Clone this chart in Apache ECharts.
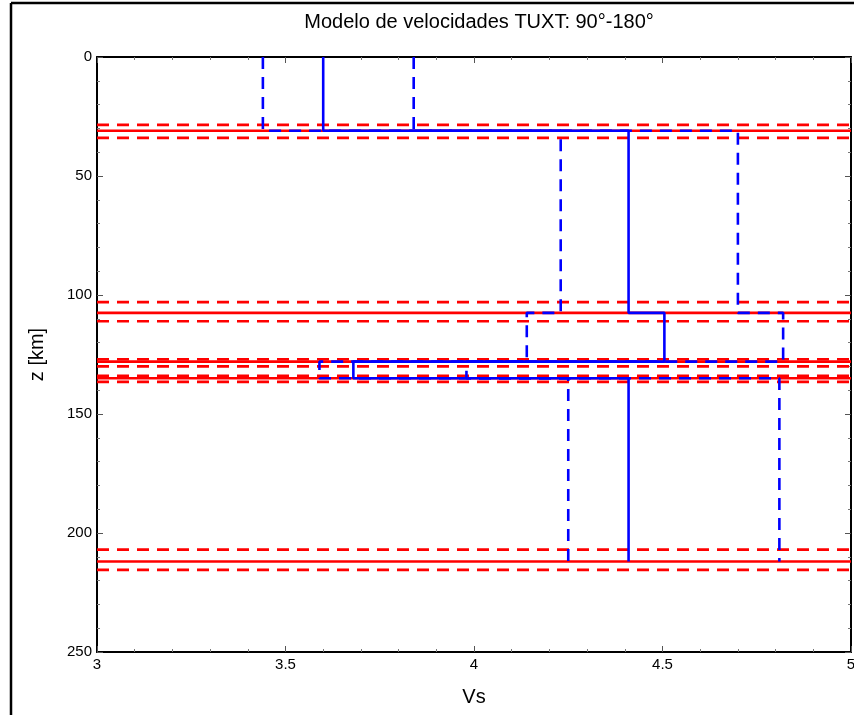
<!DOCTYPE html>
<html>
<head>
<meta charset="utf-8">
<script src="https://cdn.jsdelivr.net/npm/echarts@6/dist/echarts.min.js"></script>
<style>
  html, body { margin: 0; padding: 0; background: #fff; }
  #chart { width: 854px; height: 715px; }
</style>
</head>
<body>
<div id="chart"></div>
<script>
// Layered shear-velocity model: depth interfaces (km) and Vs per layer (km/s)
const layerTops    = [0, 31, 107.5, 128, 135];
const layerBottoms = [31, 107.5, 128, 135, 212];
const vsMean  = [3.60, 4.41, 4.505, 3.68, 4.41];
const vsLow   = [3.44, 4.23, 4.14, 3.59, 4.25];
const vsHigh  = [3.84, 4.70, 4.82, 3.98, 4.81];

// Interface depths with their uncertainty bounds (km)
const interfaceDepth = [31, 107.5, 128, 135, 212];
const interfaceShallow = [28.5, 103, 127, 134, 207];
const interfaceDeep = [34, 111, 130, 136.5, 215.5];

const xTicks = [3, 3.5, 4, 4.5, 5];
const zTicks = [0, 50, 100, 150, 200, 250];

// Build a step profile: vertical segment per layer, joined horizontally at interfaces
function stepProfile(vs) {
  const pts = [];
  for (let i = 0; i < vs.length; i++) {
    pts.push([vs[i], layerTops[i]]);
    pts.push([vs[i], layerBottoms[i]]);
  }
  return pts;
}

const X0 = xTicks[0], X1 = xTicks[xTicks.length - 1];
const series = [];

function hLine(z, type) {
  series.push({
    type: 'line', data: [[X0, z], [X1, z]], symbol: 'none', silent: true,
    lineStyle: { color: '#ff0000', width: 2.6, type: type === 'dashed' ? [12, 8] : 'solid' },
    z: 2
  });
}
interfaceDepth.forEach(z => hLine(z, 'solid'));
interfaceShallow.forEach(z => hLine(z, 'dashed'));
interfaceDeep.forEach(z => hLine(z, 'dashed'));

series.push({
  type: 'line', data: stepProfile(vsLow), symbol: 'none', silent: true,
  lineStyle: { color: '#0000ff', width: 2.6, type: [12, 8] }, z: 3
});
series.push({
  type: 'line', data: stepProfile(vsHigh), symbol: 'none', silent: true,
  lineStyle: { color: '#0000ff', width: 2.6, type: [12, 8] }, z: 3
});
series.push({
  type: 'line', data: stepProfile(vsMean), symbol: 'none', silent: true,
  lineStyle: { color: '#0000ff', width: 2.6 }, z: 4
});

const font = 'Liberation Sans, Arial, sans-serif';
const axisLine = { show: true, onZero: false, lineStyle: { color: '#000', width: 2 } };

const chart = echarts.init(document.getElementById('chart'), null, { renderer: 'canvas' });
chart.setOption({
  animation: false,
  backgroundColor: '#fff',
  title: {
    text: 'Modelo de velocidades TUXT: 90°-180°',
    left: 474, top: 7, textAlign: 'center',
    textStyle: { fontFamily: font, fontSize: 20, fontWeight: 'normal', color: '#000' }
  },
  grid: { left: 97, right: 3, top: 57, bottom: 63, containLabel: false, outerBoundsMode: 'none' },
  xAxis: [{
    type: 'value', min: X0, max: X1, interval: 0.5,
    name: 'Vs', nameLocation: 'middle', nameGap: 35,
    nameTextStyle: { fontFamily: font, fontSize: 20, color: '#000' },
    axisLine: axisLine,
    axisTick: { show: true, inside: true, length: 6, lineStyle: { color: '#555', width: 1 } },
    minorTick: { show: true, splitNumber: 5, length: 3, lineStyle: { color: '#777' } },
    axisLabel: { fontFamily: font, fontSize: 15, color: '#000', margin: 5, formatter: v => String(v) },
    splitLine: { show: false }
  }, {
    type: 'value', position: 'top', min: X0, max: X1, interval: 0.5,
    axisLine: axisLine,
    axisTick: { show: true, inside: true, length: 6, lineStyle: { color: '#555' } },
    minorTick: { show: true, splitNumber: 5, length: 3, lineStyle: { color: '#777' } },
    axisLabel: { show: false }, splitLine: { show: false }
  }],
  yAxis: [{
    type: 'value', inverse: true, min: zTicks[0], max: zTicks[zTicks.length - 1], interval: 50,
    name: 'z [km]', nameLocation: 'middle', nameGap: 50, nameRotate: 90,
    nameTextStyle: { fontFamily: font, fontSize: 20, color: '#000' },
    axisLine: axisLine,
    axisTick: { show: true, inside: true, length: 6, lineStyle: { color: '#555' } },
    minorTick: { show: true, splitNumber: 5, length: 3, lineStyle: { color: '#777' } },
    axisLabel: { fontFamily: font, fontSize: 15, color: '#000', margin: 5 },
    splitLine: { show: false }
  }, {
    type: 'value', position: 'right', inverse: true, min: 0, max: 250, interval: 50,
    axisLine: axisLine,
    axisTick: { show: true, inside: true, length: 6, lineStyle: { color: '#555' } },
    minorTick: { show: true, splitNumber: 5, length: 3, lineStyle: { color: '#777' } },
    axisLabel: { show: false }, splitLine: { show: false }
  }],
  graphic: [
    { type: 'line', shape: { x1: 11, y1: 3, x2: 11, y2: 715 }, style: { stroke: '#000', lineWidth: 2.5 }, silent: true },
    { type: 'line', shape: { x1: 11, y1: 3, x2: 854, y2: 3 }, style: { stroke: '#000', lineWidth: 2.5 }, silent: true }
  ],
  series: series
});
</script>
</body>
</html>
